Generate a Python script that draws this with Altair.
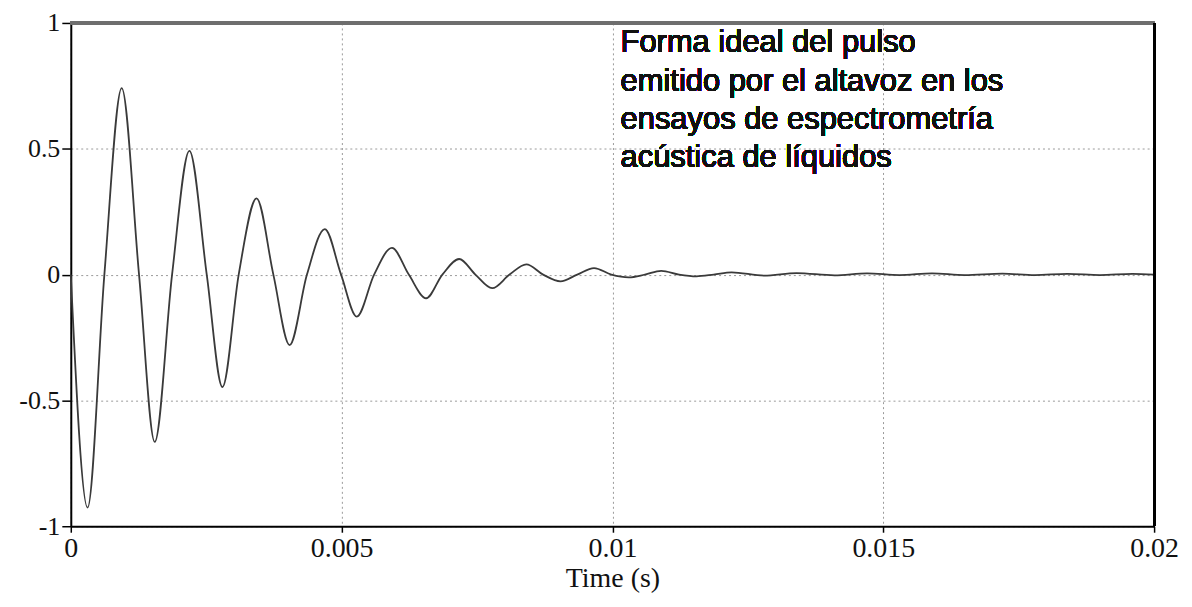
import altair as alt
import pandas as pd

# Time (s) and amplitude (extrema and zero crossings)
time_s = [0.0, 0.00031, 0.00062, 0.00094, 0.00126, 0.00155, 0.00187, 0.00219, 0.00251,
          0.0028, 0.0031, 0.00343, 0.00374, 0.00404, 0.00436, 0.00469, 0.00499, 0.00528,
          0.0056, 0.00593, 0.00624, 0.00656, 0.00686, 0.00717, 0.00747, 0.00778, 0.0081,
          0.00841, 0.00872, 0.00904, 0.00935, 0.00966, 0.00998, 0.0103, 0.0106, 0.0109,
          0.01123, 0.01155, 0.01187, 0.0122, 0.0128, 0.0134, 0.0141, 0.0147, 0.0153,
          0.0159, 0.0165, 0.0172, 0.0178, 0.0184, 0.019, 0.0196, 0.02]
amplitude = [0.0, -0.926, 0.0, 0.741, 0.0, -0.665, 0.0, 0.492, 0.0,
             -0.447, 0.0, 0.303, 0.0, -0.28, 0.0, 0.181, 0.0, -0.167,
             0.0, 0.106, 0.0, -0.094, 0.0, 0.062, 0.0, -0.054, 0.0,
             0.041, 0.0, -0.027, 0.0, 0.026, 0.0, -0.011, 0.0, 0.015,
             0.0, -0.007, 0.0, 0.009, -0.004, 0.006, -0.003, 0.005, -0.002,
             0.005, -0.002, 0.004, -0.002, 0.003, -0.002, 0.003, 0.0]

x_ticks = [0, 0.005, 0.01, 0.015, 0.02]
y_ticks = [-1, -0.5, 0, 0.5, 1]
annotation = "Forma ideal del pulso\nemitido por el altavoz en los\nensayos de espectrometría\nacústica de líquidos"

df = pd.DataFrame({"t": time_s, "v": amplitude})

serif = "Liberation Serif"

x_enc = alt.X("t:Q", title="Time (s)",
              scale=alt.Scale(domain=[0, 0.02], nice=False, zero=False),
              axis=alt.Axis(values=x_ticks, labelExpr="toString(datum.value)",
                            grid=True, gridDash=[2, 3], gridColor="#9a9a9a", gridWidth=1,
                            domainColor="black", domainWidth=2,
                            tickColor="black", tickSize=6, tickWidth=1.5,
                            labelFont=serif, labelFontSize=28, labelColor="#111",
                            labelPadding=2, labelFlush=False,
                            titleFont=serif, titleFontSize=28, titleFontWeight="normal",
                            titleColor="#111", titlePadding=2))
y_enc = alt.Y("v:Q", title=None,
              scale=alt.Scale(domain=[-1, 1], nice=False, zero=False),
              axis=alt.Axis(values=y_ticks, labelExpr="toString(datum.value)",
                            grid=True, gridDash=[2, 3], gridColor="#9a9a9a", gridWidth=1,
                            domainColor="black", domainWidth=2,
                            tickColor="black", tickSize=9, tickWidth=1.5,
                            labelFont=serif, labelFontSize=26, labelColor="#111",
                            labelPadding=2, labelFlush=False))

line = alt.Chart(df).mark_line(interpolate="monotone", color="#3a3a3a", strokeWidth=1.8).encode(
    x=x_enc, y=y_enc)

top_rule = alt.Chart(df).mark_rule(color="#6e6e6e", strokeWidth=3).encode(
    y=alt.datum(1))

right_rule = alt.Chart(df).mark_rule(color="black", strokeWidth=2).encode(
    x=alt.datum(0.02))

text = alt.Chart(df).mark_text(
    align="left", baseline="alphabetic", font="Liberation Sans", fontSize=31,
    fontWeight="normal", lineBreak="\n", lineHeight=38.5, color="#111"
).encode(x=alt.datum(0.01015), y=alt.datum(0.883), text=alt.value(annotation))

chart = alt.layer(line, top_rule, right_rule, text).properties(
    width=1087, height=505,
    autosize=alt.AutoSizeParams(type="none"),
    padding={"left": 63, "top": 14, "right": 30, "bottom": 70},
    background="white",
).configure_view(stroke=None)

chart.save("out.html", embed_options={"renderer": "svg", "actions": False})
